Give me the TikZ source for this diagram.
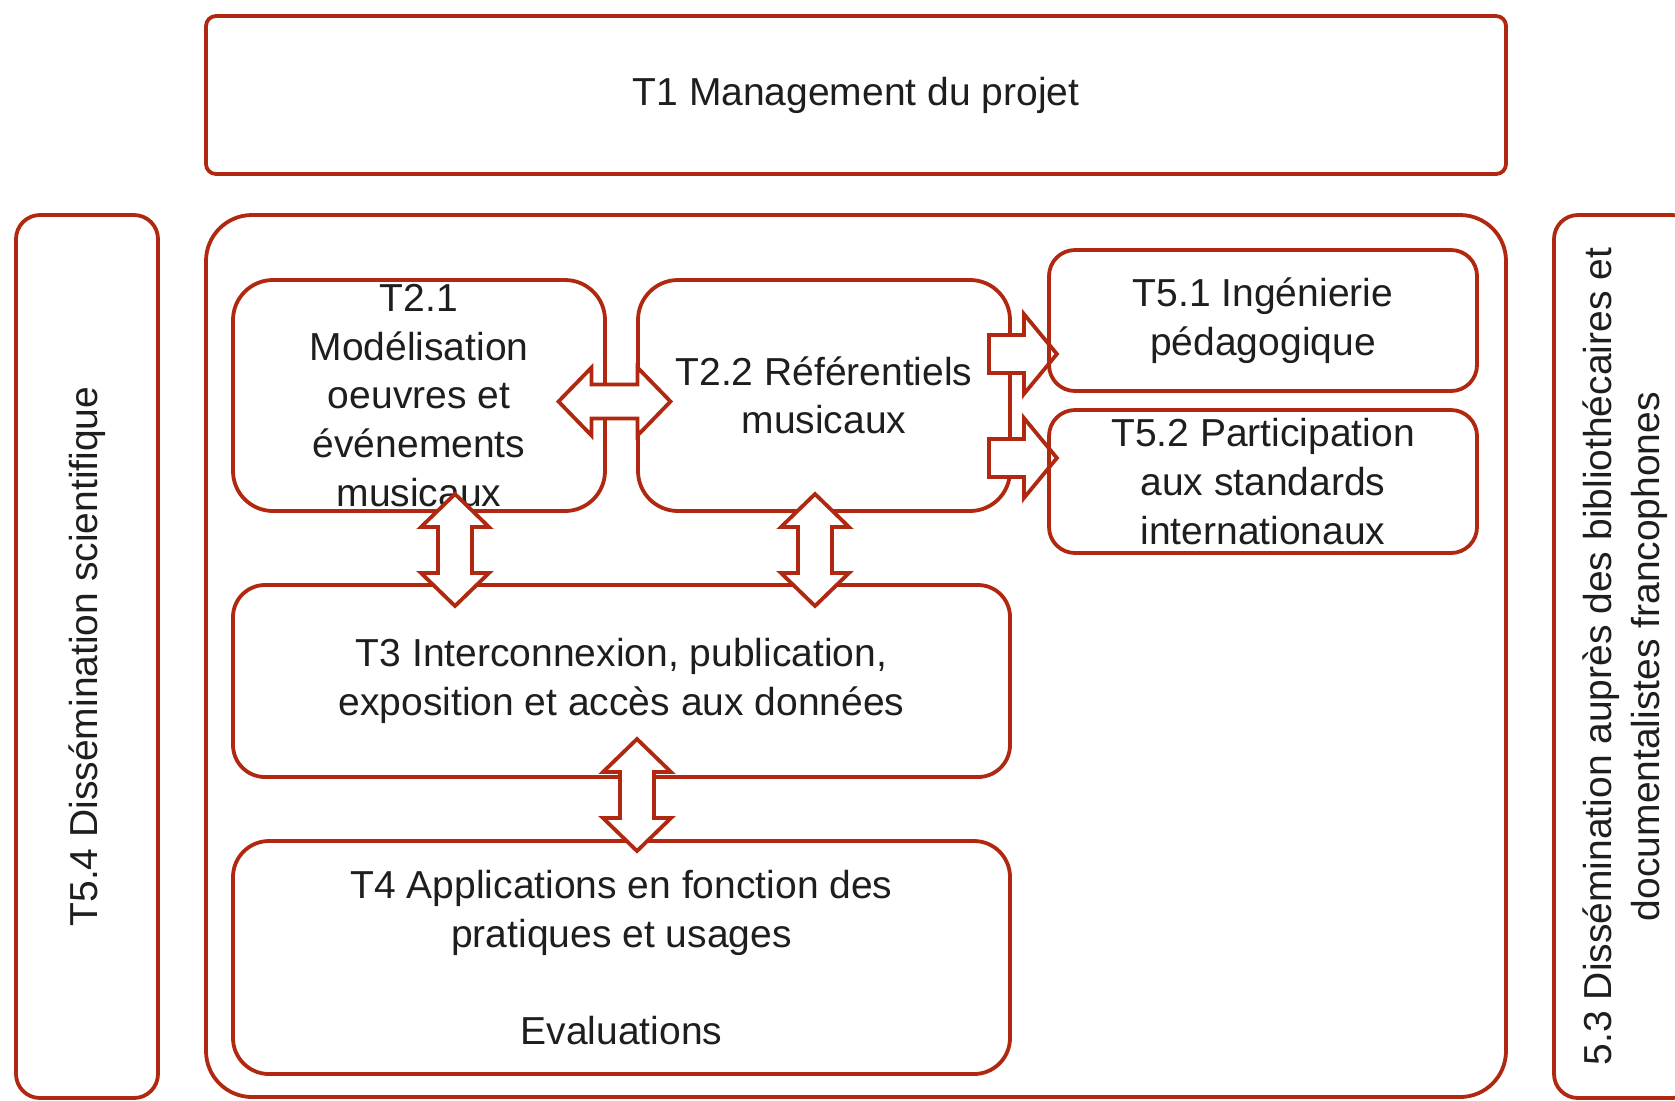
\documentclass[tikz,border=0pt]{standalone}
\usepackage{fontspec}
\setmainfont{Liberation Sans}
\usetikzlibrary{calc}
\definecolor{brd}{RGB}{176,40,16}
\definecolor{txt}{RGB}{30,30,30}
\begin{document}
\begin{tikzpicture}[x=0.5pt,y=-0.5pt,
  box/.style={draw=brd, line width=1.9pt, fill=white, rounded corners=#1, align=center,
    text=txt, font=\fontsize{19.5}{24.3}\selectfont, inner sep=0pt},
  box/.default=16pt,
  arr/.style={draw=brd, fill=white, line width=1.9pt, line join=miter},
  dblarrow/.pic={\draw[arr] (-56,0) -- (-23,-34) -- (-23,-17) -- (23,-17) -- (23,-34) -- (56,0)
     -- (23,34) -- (23,17) -- (-23,17) -- (-23,34) -- cycle;},
  onearrow/.pic={\draw[arr] (0,-19) -- (35,-19) -- (35,-40) -- (68,0) -- (35,40) -- (35,19)
     -- (0,19) -- cycle;}
]
\useasboundingbox (0,0) rectangle (1675,1100);
\clip (0,0) rectangle (1675,1100);

\node[box=5pt, minimum width=650pt, minimum height=79pt] (t1) at (856,95) {T1 Management du projet};
\node[box=23pt, minimum width=650pt, minimum height=441pt] (main) at (856,656) {};
\node[box=12pt, rotate=90, minimum width=441.5pt, minimum height=71pt] (t54) at (87,656.5)
  {T5.4 Dissémination scientifique};
\node[box=12pt, rotate=90, minimum width=441.5pt, minimum height=71pt] (t53) at (1625,656.5)
  {5.3 Dissémination auprès des bibliothécaires et\\documentalistes francophones};

\node[box=20pt, minimum width=186pt, minimum height=115.5pt] (t21) at (419,395.5)
  {T2.1\\Modélisation\\oeuvres et\\événements\\musicaux};
\node[box=20pt, minimum width=186pt, minimum height=115.5pt] (t22) at (824,395.5)
  {T2.2 Référentiels\\musicaux};
\node[box=16pt, minimum width=388.5pt, minimum height=96pt] (t3) at (621.5,681)
  {T3 Interconnexion, publication,\\exposition et accès aux données};
\node[box=18pt, minimum width=388.5pt, minimum height=116.5pt] (t4) at (621.5,957.5)
  {T4 Applications en fonction des\\pratiques et usages\\~\\Evaluations};

% connectors
\pic at ($($(t21.east)!0.5!(t22.west)$)+(-7,6)$) {dblarrow};
\pic[rotate=90] at ($($(t21.south)!0.5!(t21.south|-t3.north)$)+(36,2)$) {dblarrow};
\pic[rotate=90] at ($($(t22.south)!0.5!(t22.south|-t3.north)$)+(-9,2)$) {dblarrow};
\pic[rotate=90] at ($($(t3.south)!0.5!(t3.south|-t4.north)$)+(15.5,-14)$) {dblarrow};
\pic at ($(t22.east)+(-23,-41.5)$) {onearrow};
\pic at ($(t22.east)+(-23,62.5)$) {onearrow};

\node[box=13pt, fill=none, minimum width=214pt, minimum height=70.5pt] (t51) at (1263,320.5)
  {T5.1 Ingénierie\\pédagogique};
\node[box=13pt, fill=none, minimum width=214pt, minimum height=71.5pt] (t52) at (1263,481.5)
  {T5.2 Participation\\aux standards\\internationaux};
\end{tikzpicture}
\end{document}
